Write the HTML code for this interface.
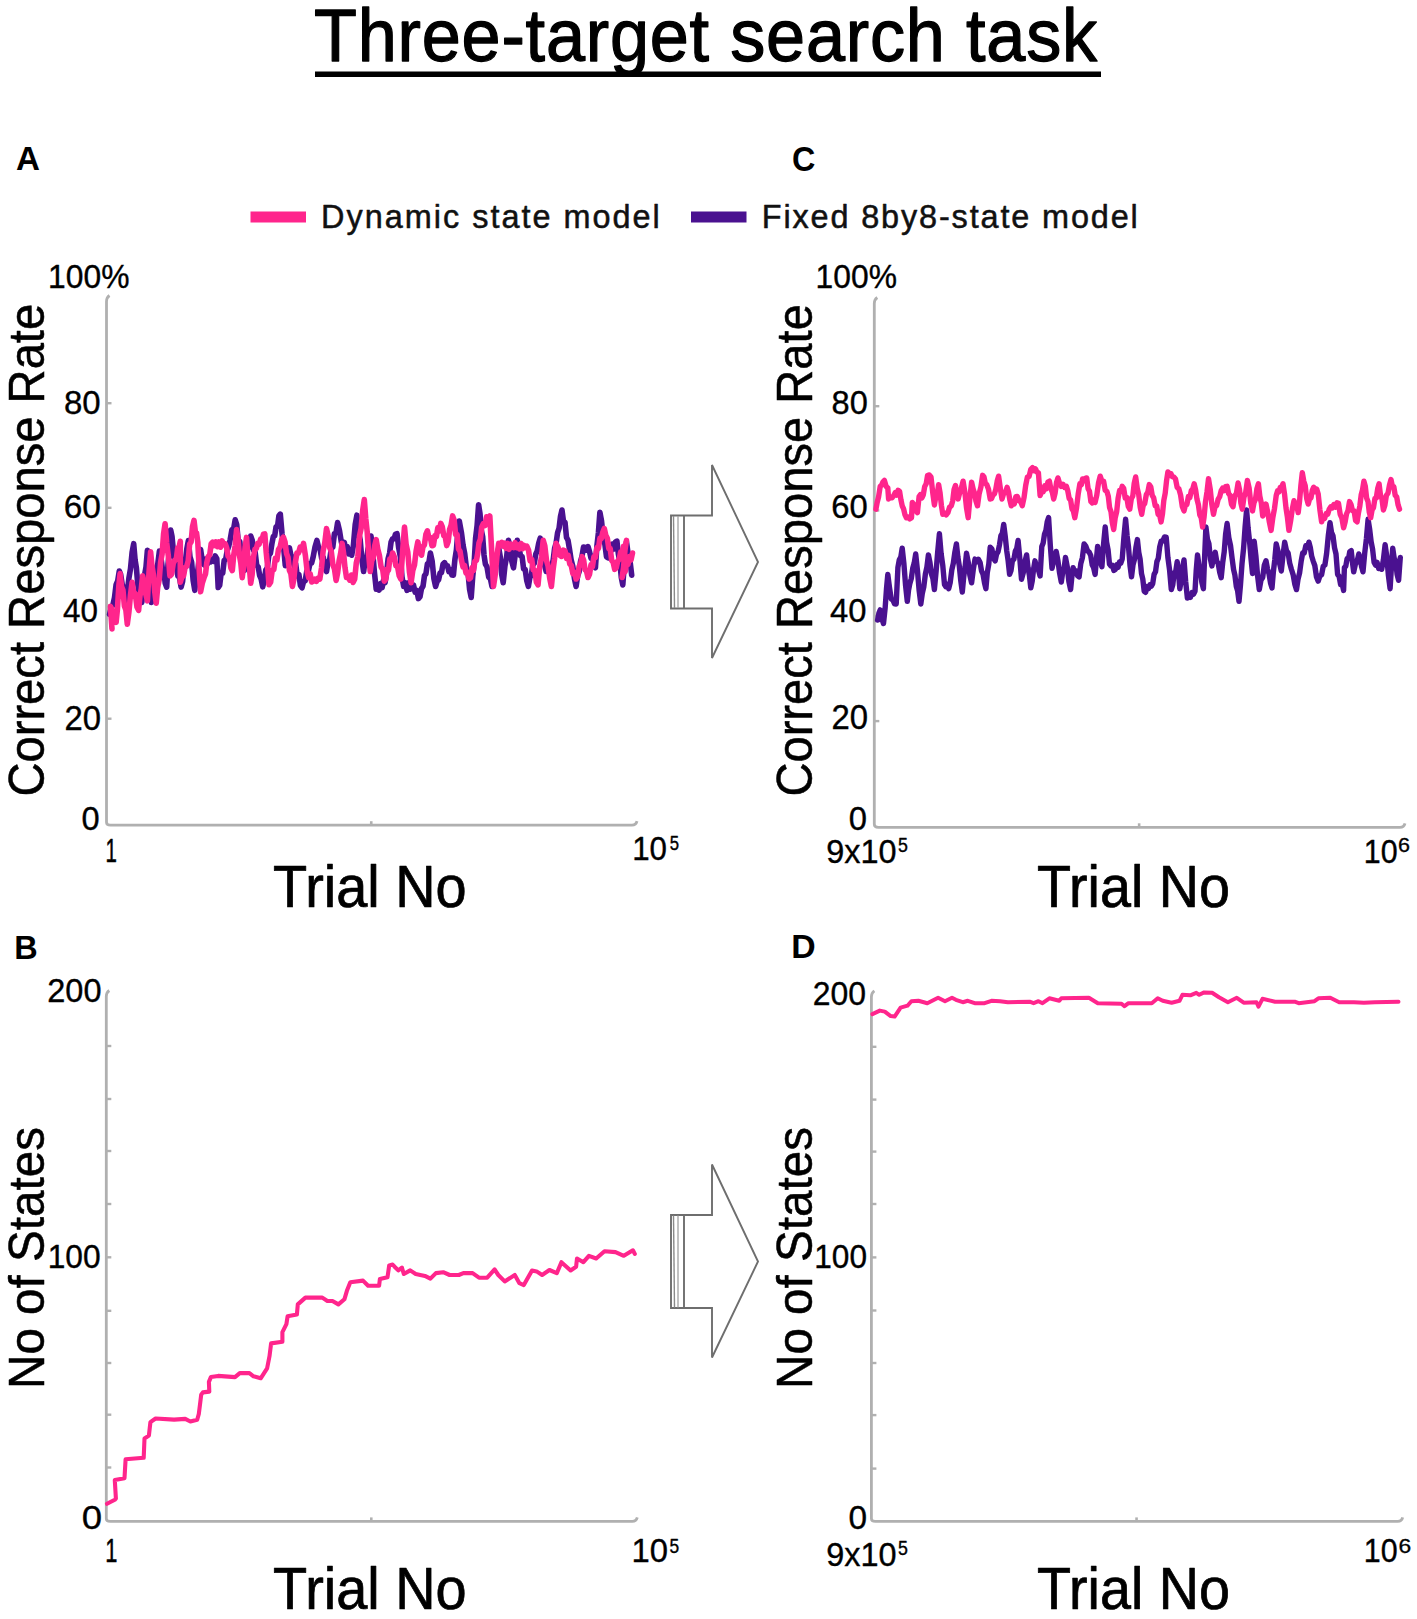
<!DOCTYPE html>
<html><head><meta charset="utf-8"><style>
html,body{margin:0;padding:0;background:#fff;}
svg{display:block;}
text{font-family:"Liberation Sans",sans-serif;}
</style></head><body>
<svg width="1417" height="1619" viewBox="0 0 1417 1619">
<rect width="1417" height="1619" fill="#fff"/>
<text transform="translate(314.02,61.40) scale(0.9600,1)" font-size="73.16" font-weight="normal" fill="#000" stroke="#000" stroke-width="1.25" stroke-linejoin="round" letter-spacing="0.822">Three-target search task</text>
<rect x="315" y="71.5" width="786" height="5.5" fill="#000"/>
<text transform="translate(15.97,169.60) scale(0.9819,1)" font-size="33.75" font-weight="bold" fill="#000" letter-spacing="0.000">A</text>
<text transform="translate(792.11,170.60) scale(0.9462,1)" font-size="34.20" font-weight="bold" fill="#000" letter-spacing="0.000">C</text>
<text transform="translate(14.21,958.80) scale(0.9537,1)" font-size="34.04" font-weight="bold" fill="#000" letter-spacing="0.000">B</text>
<text transform="translate(791.32,957.50) scale(1.0102,1)" font-size="33.45" font-weight="bold" fill="#000" letter-spacing="0.000">D</text>
<rect x="250.5" y="211.5" width="55.5" height="11" fill="#ff258c"/>
<rect x="691" y="211.5" width="55.5" height="11" fill="#4a1190"/>
<text transform="translate(321.07,227.75) scale(1.0000,1)" font-size="32.44" font-weight="normal" fill="#111" stroke="#111" stroke-width="0.50" stroke-linejoin="round" letter-spacing="1.999">Dynamic state model</text>
<text transform="translate(761.77,227.75) scale(1.0000,1)" font-size="32.44" font-weight="normal" fill="#111" stroke="#111" stroke-width="0.50" stroke-linejoin="round" letter-spacing="1.857">Fixed 8by8-state model</text>
<path d="M109.5,295.5 Q106.5,297.5 106.5,301.5 L106.5,822.2 Q106.5,825.2 110.5,825.2 L632,825.2 Q636,825.2 637,821.2" fill="none" stroke="#b0b0b0" stroke-width="2.8"/>
<line x1="106.5" y1="403.2" x2="111.5" y2="403.2" stroke="#b0b0b0" stroke-width="2.4"/>
<line x1="106.5" y1="507.8" x2="111.5" y2="507.8" stroke="#b0b0b0" stroke-width="2.4"/>
<line x1="106.5" y1="613.4" x2="111.5" y2="613.4" stroke="#b0b0b0" stroke-width="2.4"/>
<line x1="106.5" y1="718.7" x2="111.5" y2="718.7" stroke="#b0b0b0" stroke-width="2.4"/>
<line x1="371.25" y1="825.2" x2="371.25" y2="821.2" stroke="#b0b0b0" stroke-width="2.6"/>
<text transform="translate(48.09,288.22) scale(0.9515,1)" font-size="33.43" font-weight="normal" fill="#000" stroke="#000" stroke-width="0.37" stroke-linejoin="round" letter-spacing="0.000">100%</text>
<text transform="translate(63.97,413.52) scale(0.9860,1)" font-size="33.43" font-weight="normal" fill="#000" stroke="#000" stroke-width="0.35" stroke-linejoin="round" letter-spacing="0.000">80</text>
<text transform="translate(63.70,518.12) scale(1.0021,1)" font-size="33.43" font-weight="normal" fill="#000" stroke="#000" stroke-width="0.35" stroke-linejoin="round" letter-spacing="0.000">60</text>
<text transform="translate(62.97,622.43) scale(0.9279,1)" font-size="33.82" font-weight="normal" fill="#000" stroke="#000" stroke-width="0.38" stroke-linejoin="round" letter-spacing="0.000">40</text>
<text transform="translate(64.43,729.83) scale(0.9538,1)" font-size="34.40" font-weight="normal" fill="#000" stroke="#000" stroke-width="0.37" stroke-linejoin="round" letter-spacing="0.000">20</text>
<text transform="translate(81.57,830.03) scale(0.9742,1)" font-size="33.43" font-weight="normal" fill="#000" stroke="#000" stroke-width="0.36" stroke-linejoin="round" letter-spacing="0.000">0</text>
<text transform="translate(105.44,862.33) scale(0.6077,1)" font-size="33.67" font-weight="normal" fill="#000" stroke="#000" stroke-width="0.58" stroke-linejoin="round" letter-spacing="0.000">1</text>
<text transform="translate(632.13,859.53) scale(0.9574,1)" font-size="32.72" font-weight="normal" fill="#000" stroke="#000" stroke-width="0.37" stroke-linejoin="round" letter-spacing="0.000">10</text>
<text transform="translate(669.81,850.33) scale(0.8550,1)" font-size="19.58" font-weight="normal" fill="#000" stroke="#000" stroke-width="0.41" stroke-linejoin="round" letter-spacing="0.000">5</text>
<text transform="translate(43.95,796.61) rotate(-90) scale(0.9511,1)" font-size="49.60" fill="#000" stroke="#000" stroke-width="0.53" stroke-linejoin="round">Correct Response Rate</text>
<text transform="translate(273.09,907.15) scale(0.9421,1)" font-size="59.35" font-weight="normal" fill="#000" stroke="#000" stroke-width="0.74" stroke-linejoin="round" letter-spacing="0.000">Trial No</text>
<path d="M877.3,297.5 Q874.3,299.5 874.3,303.5 L874.3,824.3 Q874.3,827.3 878.3,827.3 L1400,827.3 Q1404,827.3 1405,823.3" fill="none" stroke="#b0b0b0" stroke-width="2.8"/>
<line x1="874.3" y1="406.2" x2="879.3" y2="406.2" stroke="#b0b0b0" stroke-width="2.4"/>
<line x1="874.3" y1="510.5" x2="879.3" y2="510.5" stroke="#b0b0b0" stroke-width="2.4"/>
<line x1="874.3" y1="616.0" x2="879.3" y2="616.0" stroke="#b0b0b0" stroke-width="2.4"/>
<line x1="874.3" y1="721.1" x2="879.3" y2="721.1" stroke="#b0b0b0" stroke-width="2.4"/>
<line x1="1139.15" y1="827.3" x2="1139.15" y2="823.3" stroke="#b0b0b0" stroke-width="2.6"/>
<text transform="translate(815.59,288.43) scale(0.9515,1)" font-size="33.43" font-weight="normal" fill="#000" stroke="#000" stroke-width="0.37" stroke-linejoin="round" letter-spacing="0.000">100%</text>
<text transform="translate(831.59,413.62) scale(0.9663,1)" font-size="33.71" font-weight="normal" fill="#000" stroke="#000" stroke-width="0.36" stroke-linejoin="round" letter-spacing="0.000">80</text>
<text transform="translate(831.33,517.93) scale(0.9613,1)" font-size="34.13" font-weight="normal" fill="#000" stroke="#000" stroke-width="0.36" stroke-linejoin="round" letter-spacing="0.000">60</text>
<text transform="translate(830.04,621.93) scale(0.9702,1)" font-size="33.82" font-weight="normal" fill="#000" stroke="#000" stroke-width="0.36" stroke-linejoin="round" letter-spacing="0.000">40</text>
<text transform="translate(831.43,728.93) scale(0.9447,1)" font-size="34.84" font-weight="normal" fill="#000" stroke="#000" stroke-width="0.37" stroke-linejoin="round" letter-spacing="0.000">20</text>
<text transform="translate(848.66,830.03) scale(1.0017,1)" font-size="32.72" font-weight="normal" fill="#000" stroke="#000" stroke-width="0.35" stroke-linejoin="round" letter-spacing="0.000">0</text>
<text transform="translate(826.23,863.12) scale(0.9786,1)" font-size="33.14" font-weight="normal" fill="#000" stroke="#000" stroke-width="0.36" stroke-linejoin="round" letter-spacing="0.000">9x10</text>
<text transform="translate(897.96,852.33) scale(0.9087,1)" font-size="19.58" font-weight="normal" fill="#000" stroke="#000" stroke-width="0.39" stroke-linejoin="round" letter-spacing="0.000">5</text>
<text transform="translate(1363.79,862.73) scale(0.9299,1)" font-size="32.72" font-weight="normal" fill="#000" stroke="#000" stroke-width="0.38" stroke-linejoin="round" letter-spacing="0.000">10</text>
<text transform="translate(1398.10,852.33) scale(1.0990,1)" font-size="19.58" font-weight="normal" fill="#000" stroke="#000" stroke-width="0.32" stroke-linejoin="round" letter-spacing="0.000">6</text>
<text transform="translate(811.95,796.61) rotate(-90) scale(0.9505,1)" font-size="49.60" fill="#000" stroke="#000" stroke-width="0.53" stroke-linejoin="round">Correct Response Rate</text>
<text transform="translate(1037.10,907.25) scale(0.9382,1)" font-size="59.35" font-weight="normal" fill="#000" stroke="#000" stroke-width="0.75" stroke-linejoin="round" letter-spacing="0.000">Trial No</text>
<path d="M109.3,990.5 Q106.3,992.5 106.3,996.5 L106.3,1518.4 Q106.3,1521.4 110.3,1521.4 L632.3,1521.4 Q636.3,1521.4 637.3,1517.4" fill="none" stroke="#b0b0b0" stroke-width="2.8"/>
<line x1="106.3" y1="1046" x2="111.3" y2="1046" stroke="#b0b0b0" stroke-width="2.4"/>
<line x1="106.3" y1="1099" x2="111.3" y2="1099" stroke="#b0b0b0" stroke-width="2.4"/>
<line x1="106.3" y1="1151" x2="111.3" y2="1151" stroke="#b0b0b0" stroke-width="2.4"/>
<line x1="106.3" y1="1204" x2="111.3" y2="1204" stroke="#b0b0b0" stroke-width="2.4"/>
<line x1="106.3" y1="1257.3" x2="111.3" y2="1257.3" stroke="#b0b0b0" stroke-width="2.4"/>
<line x1="106.3" y1="1310.8" x2="111.3" y2="1310.8" stroke="#b0b0b0" stroke-width="2.4"/>
<line x1="106.3" y1="1363" x2="111.3" y2="1363" stroke="#b0b0b0" stroke-width="2.4"/>
<line x1="106.3" y1="1414.7" x2="111.3" y2="1414.7" stroke="#b0b0b0" stroke-width="2.4"/>
<line x1="106.3" y1="1467.5" x2="111.3" y2="1467.5" stroke="#b0b0b0" stroke-width="2.4"/>
<line x1="371.29999999999995" y1="1521.4" x2="371.29999999999995" y2="1517.4" stroke="#b0b0b0" stroke-width="2.6"/>
<text transform="translate(47.25,1002.12) scale(0.9933,1)" font-size="32.72" font-weight="normal" fill="#000" stroke="#000" stroke-width="0.35" stroke-linejoin="round" letter-spacing="0.000">200</text>
<text transform="translate(47.69,1267.62) scale(0.9494,1)" font-size="33.43" font-weight="normal" fill="#000" stroke="#000" stroke-width="0.37" stroke-linejoin="round" letter-spacing="0.000">100</text>
<text transform="translate(81.71,1529.33) scale(1.0932,1)" font-size="33.43" font-weight="normal" fill="#000" stroke="#000" stroke-width="0.32" stroke-linejoin="round" letter-spacing="0.000">0</text>
<text transform="translate(105.34,1562.03) scale(0.6489,1)" font-size="33.67" font-weight="normal" fill="#000" stroke="#000" stroke-width="0.54" stroke-linejoin="round" letter-spacing="0.000">1</text>
<text transform="translate(631.41,1562.23) scale(0.9906,1)" font-size="33.14" font-weight="normal" fill="#000" stroke="#000" stroke-width="0.35" stroke-linejoin="round" letter-spacing="0.000">10</text>
<text transform="translate(669.48,1552.83) scale(0.8872,1)" font-size="19.58" font-weight="normal" fill="#000" stroke="#000" stroke-width="0.39" stroke-linejoin="round" letter-spacing="0.000">5</text>
<text transform="translate(43.65,1388.98) rotate(-90) scale(0.9603,1)" font-size="49.60" fill="#000" stroke="#000" stroke-width="0.52" stroke-linejoin="round">No of States</text>
<text transform="translate(273.09,1609.25) scale(0.9421,1)" font-size="59.35" font-weight="normal" fill="#000" stroke="#000" stroke-width="0.74" stroke-linejoin="round" letter-spacing="0.000">Trial No</text>
<path d="M874.4,990.9 Q871.4,992.9 871.4,996.9 L871.4,1518.4 Q871.4,1521.4 875.4,1521.4 L1397.7,1521.4 Q1401.7,1521.4 1402.7,1517.4" fill="none" stroke="#b0b0b0" stroke-width="2.8"/>
<line x1="871.4" y1="1046.8" x2="876.4" y2="1046.8" stroke="#b0b0b0" stroke-width="2.4"/>
<line x1="871.4" y1="1099.6" x2="876.4" y2="1099.6" stroke="#b0b0b0" stroke-width="2.4"/>
<line x1="871.4" y1="1151.6" x2="876.4" y2="1151.6" stroke="#b0b0b0" stroke-width="2.4"/>
<line x1="871.4" y1="1204" x2="876.4" y2="1204" stroke="#b0b0b0" stroke-width="2.4"/>
<line x1="871.4" y1="1257.4" x2="876.4" y2="1257.4" stroke="#b0b0b0" stroke-width="2.4"/>
<line x1="871.4" y1="1310.5" x2="876.4" y2="1310.5" stroke="#b0b0b0" stroke-width="2.4"/>
<line x1="871.4" y1="1363" x2="876.4" y2="1363" stroke="#b0b0b0" stroke-width="2.4"/>
<line x1="871.4" y1="1415.1" x2="876.4" y2="1415.1" stroke="#b0b0b0" stroke-width="2.4"/>
<line x1="871.4" y1="1468.6" x2="876.4" y2="1468.6" stroke="#b0b0b0" stroke-width="2.4"/>
<line x1="1136.55" y1="1521.4" x2="1136.55" y2="1517.4" stroke="#b0b0b0" stroke-width="2.6"/>
<text transform="translate(812.78,1005.23) scale(0.9843,1)" font-size="32.44" font-weight="normal" fill="#000" stroke="#000" stroke-width="0.36" stroke-linejoin="round" letter-spacing="0.000">200</text>
<text transform="translate(814.30,1267.53) scale(0.9456,1)" font-size="33.43" font-weight="normal" fill="#000" stroke="#000" stroke-width="0.37" stroke-linejoin="round" letter-spacing="0.000">100</text>
<text transform="translate(848.54,1529.33) scale(1.0297,1)" font-size="32.44" font-weight="normal" fill="#000" stroke="#000" stroke-width="0.34" stroke-linejoin="round" letter-spacing="0.000">0</text>
<text transform="translate(826.23,1565.62) scale(1.0000,1)" font-size="32.44" font-weight="normal" fill="#000" stroke="#000" stroke-width="0.35" stroke-linejoin="round" letter-spacing="0.000">9x10</text>
<text transform="translate(897.96,1554.83) scale(0.9221,1)" font-size="19.29" font-weight="normal" fill="#000" stroke="#000" stroke-width="0.38" stroke-linejoin="round" letter-spacing="0.000">5</text>
<text transform="translate(1363.79,1562.03) scale(0.9102,1)" font-size="33.43" font-weight="normal" fill="#000" stroke="#000" stroke-width="0.38" stroke-linejoin="round" letter-spacing="0.000">10</text>
<text transform="translate(1398.43,1552.83) scale(1.1405,1)" font-size="20.00" font-weight="normal" fill="#000" stroke="#000" stroke-width="0.31" stroke-linejoin="round" letter-spacing="0.000">6</text>
<text transform="translate(811.75,1388.98) rotate(-90) scale(0.9603,1)" font-size="49.60" fill="#000" stroke="#000" stroke-width="0.52" stroke-linejoin="round">No of States</text>
<text transform="translate(1037.10,1609.35) scale(0.9382,1)" font-size="59.35" font-weight="normal" fill="#000" stroke="#000" stroke-width="0.75" stroke-linejoin="round" letter-spacing="0.000">Trial No</text>
<path d="M671,515.5 L712,515.5 L712,465 L758,562 L712,658 L712,608.5 L671,608.5 Z" fill="#fff" stroke="#6e6e6e" stroke-width="1.9" stroke-linejoin="miter"/>
<line x1="673.5" y1="516" x2="674.5" y2="608" stroke="#8a8a8a" stroke-width="1.4"/>
<line x1="678" y1="516" x2="678" y2="608" stroke="#a0a0a0" stroke-width="1.3"/>
<line x1="684" y1="515.5" x2="684" y2="608.5" stroke="#6e6e6e" stroke-width="1.9"/>
<path d="M671,1215.0 L712,1215.0 L712,1164.5 L758,1261.5 L712,1357.5 L712,1308.0 L671,1308.0 Z" fill="#fff" stroke="#6e6e6e" stroke-width="1.9" stroke-linejoin="miter"/>
<line x1="673.5" y1="1215.5" x2="674.5" y2="1307.5" stroke="#8a8a8a" stroke-width="1.4"/>
<line x1="678" y1="1215.5" x2="678" y2="1307.5" stroke="#a0a0a0" stroke-width="1.3"/>
<line x1="684" y1="1215.0" x2="684" y2="1308.0" stroke="#6e6e6e" stroke-width="1.9"/>
<polyline points="107.0,1503.8 114.8,1499.7 115.9,1498.6 114.8,1480.1 124.5,1478.2 125.6,1459.3 143.7,1457.8 144.5,1438.5 148.9,1435.6 150.4,1422.2 155.6,1418.5 174.1,1419.6 185.2,1418.9 190.4,1421.5 197.2,1419.7 198.8,1414.0 200.0,1404.4 201.2,1394.8 202.9,1392.4 209.3,1391.6 208.9,1381.9 210.9,1377.1 218.1,1375.9 235.0,1377.1 239.8,1373.1 249.4,1373.1 253.5,1376.3 260.7,1378.3 267.1,1368.3 269.5,1356.2 271.1,1343.4 282.4,1341.8 282.4,1332.1 286.4,1324.1 287.6,1316.2 296.9,1314.5 297.8,1304.4 305.4,1297.6 322.3,1297.6 327.4,1301.0 332.5,1301.0 338.4,1304.4 344.4,1299.3 346.9,1290.8 350.3,1282.3 363.0,1280.6 368.1,1285.7 379.1,1285.7 379.9,1279.0 387.5,1277.3 389.2,1265.4 392.6,1264.6 394.6,1266.7 398.3,1270.4 401.9,1267.6 403.8,1274.0 410.2,1270.4 415.7,1274.0 424.9,1275.9 430.4,1278.6 435.9,1273.1 443.2,1272.2 449.6,1275.0 458.8,1275.0 463.4,1273.1 472.6,1273.1 479.0,1277.7 487.2,1277.7 494.6,1269.4 498.3,1275.0 504.7,1281.4 514.8,1275.0 519.4,1283.2 523.8,1285.1 532.0,1270.5 536.6,1271.4 542.1,1275.0 549.4,1270.0 556.8,1273.2 561.4,1262.2 570.6,1270.5 576.1,1266.8 577.0,1258.5 583.4,1262.2 588.9,1255.8 596.2,1258.5 604.5,1251.2 615.5,1252.1 623.8,1255.8 632.9,1250.3 634.8,1253.9" fill="none" stroke="#ff258c" stroke-width="4.1" stroke-linejoin="round" stroke-linecap="round" />
<polyline points="872.4,1014.1 879.8,1010.6 884.8,1011.6 890.7,1016.1 894.6,1016.6 900.6,1007.7 907.5,1005.7 911.4,1001.2 918.4,1000.8 927.3,1003.2 938.1,997.8 945.0,1001.2 952.0,997.8 955.9,999.8 962.8,1002.2 967.8,1000.8 974.7,1003.2 984.6,1003.2 991.5,1000.8 1000.0,1001.2 1007.9,1002.2 1029.6,1001.7 1033.6,1003.2 1038.5,1001.2 1042.5,1003.2 1049.4,998.3 1059.3,1000.8 1061.3,998.3 1088.9,997.8 1097.8,1003.2 1121.5,1003.7 1124.5,1006.2 1128.5,1003.2 1151.8,1003.2 1157.7,998.3 1162.7,1000.8 1171.6,1002.7 1179.5,1000.8 1182.4,994.8 1190.3,995.3 1196.3,992.8 1199.2,994.8 1204.2,992.4 1212.1,992.8 1219.0,997.3 1227.9,1002.2 1236.8,997.8 1243.7,1002.7 1256.5,1002.2 1258.5,1006.7 1262.5,998.8 1275.0,1001.7 1294.7,1001.7 1298.7,1003.2 1314.5,1001.2 1318.4,998.3 1330.3,997.8 1339.2,1002.2 1354.0,1002.2 1363.9,1002.7 1374.7,1002.2 1398.5,1001.7" fill="none" stroke="#ff258c" stroke-width="4.0" stroke-linejoin="round" stroke-linecap="round" />
<polyline points="877.6,620.1 878.9,613.3 880.2,609.9 881.9,618.9 883.5,623.5 885.2,607.4 886.5,588.7 887.8,574.4 889.5,587.6 891.2,598.9 892.9,600.0 894.5,603.8 896.2,604.0 897.9,567.6 899.3,559.8 900.8,557.1 902.2,548.1 903.9,563.6 905.6,585.7 907.3,601.4 908.5,590.6 909.8,583.7 911.3,578.5 912.8,567.9 914.2,563.1 915.7,554.0 917.4,569.7 919.1,590.1 920.8,604.0 922.3,593.4 923.8,586.9 925.4,573.8 926.9,567.0 928.4,554.9 929.9,562.2 931.4,573.8 932.9,578.3 934.4,589.6 936.1,571.6 937.7,551.6 939.4,533.7 941.1,553.4 942.8,565.7 944.5,584.5 945.9,586.7 947.3,584.3 948.7,588.7 950.2,582.6 951.8,569.9 953.3,563.4 954.9,551.9 956.4,543.9 957.9,557.3 959.3,565.9 960.8,581.0 962.3,592.1 963.7,576.9 965.1,566.9 966.5,553.2 968.2,562.1 969.9,575.5 971.6,582.8 973.3,569.4 975.0,559.1 976.7,561.8 978.4,559.3 980.1,562.5 981.5,570.8 983.0,574.1 984.5,582.8 985.9,588.7 987.3,572.6 988.8,564.0 990.2,547.3 991.9,548.9 993.5,558.5 995.2,560.8 996.6,554.0 998.1,551.5 999.5,544.7 1000.9,535.7 1002.3,533.4 1003.7,524.4 1005.2,536.0 1006.7,550.6 1008.1,560.4 1009.6,574.4 1011.0,570.6 1012.4,560.6 1013.9,559.3 1015.3,551.1 1016.7,548.7 1018.1,540.5 1019.8,558.3 1021.5,579.4 1023.2,573.1 1024.9,561.9 1026.6,554.9 1028.0,567.5 1029.4,575.4 1030.8,587.9 1032.2,581.3 1033.6,569.0 1035.0,560.8 1036.7,567.8 1038.4,569.9 1040.1,576.0 1041.8,546.4 1043.2,542.9 1044.5,534.2 1045.9,530.4 1047.2,521.9 1048.6,517.6 1050.3,545.1 1052.0,568.4 1053.4,562.0 1054.8,558.8 1056.2,551.5 1057.9,560.6 1059.6,573.1 1061.3,582.0 1062.7,572.1 1064.1,568.5 1065.5,557.4 1067.2,566.4 1068.9,581.8 1070.6,589.6 1071.8,577.6 1073.1,567.6 1074.6,572.7 1076.1,570.8 1077.6,575.6 1079.1,576.9 1080.8,563.5 1082.4,557.7 1084.1,543.9 1085.8,546.1 1087.5,550.7 1089.2,552.3 1090.7,555.4 1092.2,564.8 1093.6,567.7 1095.1,574.4 1096.3,561.0 1097.6,546.4 1099.0,552.5 1100.5,562.0 1101.9,566.7 1103.6,543.8 1105.2,526.9 1106.6,542.3 1108.1,550.0 1109.5,564.2 1111.0,566.1 1112.5,565.4 1113.9,570.5 1115.4,569.3 1116.8,564.7 1118.1,567.4 1119.5,562.0 1120.8,563.0 1122.2,559.1 1123.9,537.5 1125.6,519.3 1127.1,535.8 1128.5,546.9 1130.0,565.4 1131.5,576.9 1133.0,564.8 1134.5,559.2 1135.9,547.6 1137.4,539.6 1138.8,552.6 1140.1,559.0 1141.5,573.5 1142.8,579.1 1144.2,591.3 1145.6,592.3 1147.0,586.5 1148.5,588.6 1149.9,584.9 1151.3,586.2 1152.7,583.7 1154.1,574.4 1155.5,571.8 1156.9,561.6 1158.3,558.2 1159.7,546.8 1161.1,541.3 1162.8,541.1 1164.5,536.9 1166.2,537.1 1167.9,557.6 1169.6,570.2 1171.3,589.6 1172.8,584.7 1174.2,572.8 1175.7,571.6 1177.2,561.7 1178.5,572.8 1179.8,588.7 1181.2,580.7 1182.6,567.6 1184.0,560.0 1185.7,581.8 1187.4,598.1 1188.9,594.2 1190.4,597.4 1192.0,592.6 1193.5,594.1 1195.0,591.3 1196.2,570.7 1197.5,554.9 1199.0,565.3 1200.5,571.2 1201.9,582.6 1203.4,588.7 1204.7,555.0 1205.9,526.9 1207.4,539.2 1208.9,543.6 1210.4,558.9 1211.9,565.9 1213.6,557.2 1215.2,552.3 1216.7,561.1 1218.2,563.5 1219.7,572.2 1221.2,577.7 1222.7,562.7 1224.2,551.9 1225.6,534.2 1227.1,523.5 1228.8,537.6 1230.5,545.3 1232.2,559.1 1233.6,569.7 1234.9,575.1 1236.3,586.4 1237.6,590.7 1239.0,601.4 1240.5,584.7 1242.0,563.7 1243.6,548.1 1245.1,526.9 1246.6,510.0 1248.1,528.1 1249.5,540.8 1251.0,558.4 1252.5,573.5 1254.2,541.3 1255.9,556.1 1257.6,575.8 1259.3,589.6 1261.0,580.0 1262.7,577.4 1264.3,565.2 1266.0,560.8 1267.5,569.1 1269.0,573.7 1270.5,582.9 1272.0,587.9 1273.4,571.6 1274.8,559.6 1276.2,543.9 1277.9,550.7 1279.6,563.4 1281.3,571.0 1283.0,555.4 1284.7,542.2 1286.4,550.4 1288.1,552.9 1289.7,563.1 1291.4,569.3 1293.1,574.6 1294.8,584.1 1296.5,589.6 1298.0,579.4 1299.6,572.9 1301.2,561.0 1302.7,553.0 1304.2,553.1 1305.8,545.8 1307.4,547.2 1308.9,542.2 1310.3,547.4 1311.7,556.3 1313.1,560.8 1314.8,565.5 1316.5,577.0 1318.2,581.1 1319.9,575.9 1321.6,574.8 1323.2,566.4 1324.9,565.0 1326.6,553.5 1328.3,535.7 1330.0,522.7 1331.5,532.4 1333.0,535.9 1334.5,547.7 1336.0,554.0 1337.6,574.4 1339.1,576.2 1340.6,584.6 1342.1,583.5 1343.6,590.4 1344.4,567.6 1345.8,566.1 1347.1,558.6 1348.5,558.8 1349.8,551.6 1351.2,550.6 1352.5,562.6 1353.7,571.8 1355.4,564.1 1357.1,561.4 1358.8,554.0 1360.2,558.6 1361.6,566.8 1363.0,571.8 1364.7,553.2 1366.4,538.7 1368.1,519.3 1369.6,528.9 1371.1,541.6 1372.6,549.2 1374.1,562.5 1375.6,565.1 1377.1,562.4 1378.7,568.6 1380.2,566.4 1381.7,569.3 1383.4,559.7 1385.1,544.7 1386.8,556.6 1388.4,575.4 1390.1,588.7 1391.4,567.5 1392.7,548.1 1394.2,558.3 1395.7,561.6 1397.1,574.3 1398.6,580.3 1400.3,557.4" fill="none" stroke="#4a1190" stroke-width="5.4" stroke-linejoin="round" stroke-linecap="round" />
<polyline points="875.9,509.2 877.2,502.2 878.5,497.3 880.2,486.3 881.6,485.2 883.0,481.8 884.4,480.4 886.1,486.3 887.8,488.0 888.6,499.0 890.3,496.7 892.0,497.8 893.7,495.6 895.2,492.6 896.7,495.2 898.1,490.3 899.6,491.4 900.9,499.6 902.2,505.8 903.6,508.9 905.0,514.9 906.4,517.7 908.1,517.0 909.8,518.9 911.5,517.7 912.3,502.4 914.0,504.6 915.7,510.3 917.4,512.6 919.1,496.5 920.5,494.5 921.9,497.9 923.3,494.8 924.7,486.5 926.2,483.8 927.6,475.3 929.3,475.0 931.0,477.0 932.7,492.4 934.4,505.0 935.8,496.7 937.2,494.3 938.6,484.6 940.0,492.4 941.4,505.4 942.8,514.3 944.5,513.0 946.2,514.8 947.9,512.6 949.6,507.1 951.3,505.8 952.7,500.9 954.1,489.4 955.5,485.5 956.8,494.1 958.1,499.0 959.8,492.4 961.4,487.9 963.1,481.2 964.8,491.6 966.5,507.8 968.2,517.7 969.9,498.1 971.6,482.1 973.1,488.9 974.5,493.1 976.0,501.2 977.5,505.8 979.2,493.5 980.9,487.0 982.6,475.3 984.0,477.0 985.4,483.5 986.8,484.6 988.5,489.2 990.2,499.0 991.6,498.6 993.0,494.9 994.4,494.0 995.8,489.2 997.2,481.1 998.6,476.2 1000.3,488.2 1002.0,499.0 1003.7,493.4 1005.4,492.5 1007.1,487.2 1008.5,492.0 1009.9,500.2 1011.3,505.8 1012.8,502.7 1014.3,503.9 1015.8,496.7 1017.3,496.5 1019.0,500.8 1020.6,501.3 1022.3,505.8 1024.0,497.8 1025.7,485.4 1027.4,477.0 1029.1,476.4 1030.8,469.4 1032.5,467.7 1034.0,470.6 1035.5,468.9 1036.9,472.1 1038.4,472.8 1040.1,495.6 1041.6,491.8 1043.2,491.8 1044.8,485.8 1046.3,488.9 1047.9,482.1 1049.4,481.2 1050.8,488.6 1052.3,492.3 1053.7,499.0 1055.1,493.1 1056.5,482.6 1057.9,477.9 1059.6,483.3 1061.3,486.3 1063.0,484.3 1064.7,487.5 1066.4,486.3 1067.8,490.9 1069.2,498.5 1070.6,499.9 1072.0,508.8 1073.4,511.1 1074.8,517.7 1076.5,508.2 1078.2,494.0 1079.9,483.8 1081.3,484.8 1082.6,478.9 1084.0,480.9 1085.3,478.3 1086.7,477.9 1088.1,488.7 1089.5,491.3 1090.9,501.6 1092.3,502.9 1093.7,500.2 1095.1,502.4 1096.8,495.2 1098.5,483.0 1100.2,476.2 1101.9,481.1 1103.6,481.1 1105.2,490.2 1106.9,491.4 1108.3,496.3 1109.6,507.7 1111.0,511.7 1112.3,522.6 1113.7,529.5 1115.2,517.8 1116.7,511.5 1118.1,498.3 1119.6,490.6 1120.9,491.4 1122.2,486.3 1123.7,488.3 1125.2,498.0 1126.8,497.5 1128.3,506.5 1129.8,509.2 1131.3,498.8 1132.8,496.0 1134.2,483.3 1135.7,477.0 1137.2,488.0 1138.7,494.5 1140.2,507.3 1141.7,514.3 1143.2,505.4 1144.7,503.6 1146.3,494.7 1147.8,492.2 1149.3,484.6 1150.8,487.0 1152.2,495.3 1153.7,497.9 1155.2,505.8 1156.7,506.0 1158.1,514.4 1159.6,515.0 1161.1,521.9 1162.5,513.8 1163.8,500.5 1165.2,493.2 1166.5,481.2 1167.9,471.9 1169.4,475.6 1170.8,473.5 1172.3,476.6 1173.8,477.0 1175.5,479.0 1177.2,487.5 1178.9,488.9 1180.6,495.1 1182.3,506.5 1184.0,510.9 1185.5,504.8 1186.9,504.6 1188.4,496.6 1189.8,497.7 1191.3,490.7 1192.7,489.2 1194.2,483.8 1195.6,489.9 1197.0,499.3 1198.4,504.7 1199.8,515.0 1201.2,517.6 1202.6,527.0 1204.1,516.8 1205.5,501.6 1207.0,491.9 1208.5,478.7 1210.2,488.9 1211.8,504.3 1213.5,514.3 1215.0,506.8 1216.6,505.6 1218.1,499.4 1219.7,496.7 1221.2,490.6 1222.7,488.0 1224.2,490.7 1225.6,486.7 1227.1,486.3 1228.6,493.6 1230.0,495.3 1231.5,504.4 1233.0,506.7 1234.7,496.1 1236.4,493.5 1238.1,483.0 1239.5,489.5 1240.9,503.1 1242.3,509.2 1244.0,497.0 1245.7,492.4 1247.4,480.4 1249.1,487.8 1250.8,503.4 1252.5,510.9 1254.0,502.8 1255.5,499.2 1256.9,488.8 1258.4,483.8 1259.8,496.1 1261.3,503.0 1262.7,516.0 1264.3,512.8 1266.0,504.1 1267.7,512.1 1269.4,522.3 1271.1,530.4 1272.8,517.8 1274.5,508.4 1276.2,495.6 1277.6,490.8 1278.9,492.0 1280.3,487.3 1281.6,487.1 1283.0,483.8 1284.5,493.8 1286.0,508.0 1287.4,517.2 1288.9,530.4 1290.6,521.1 1292.3,509.1 1294.0,500.7 1295.4,505.7 1296.8,505.7 1298.2,512.6 1299.6,500.9 1300.9,485.3 1302.3,472.8 1303.8,481.3 1305.2,485.6 1306.7,498.5 1308.2,504.1 1309.6,498.8 1311.0,497.9 1312.3,490.3 1313.7,487.2 1315.2,491.7 1316.7,489.1 1318.2,494.0 1319.9,509.8 1321.6,521.9 1323.1,517.2 1324.6,518.4 1326.2,513.5 1327.7,514.2 1329.2,509.2 1330.8,506.9 1332.3,508.0 1333.8,504.5 1335.4,507.1 1337.0,502.8 1338.5,503.3 1340.2,514.4 1341.9,518.2 1343.6,527.8 1345.1,522.1 1346.5,514.0 1348.0,510.7 1349.5,501.6 1351.0,504.4 1352.5,510.7 1354.1,510.9 1355.6,520.5 1357.1,521.9 1358.5,512.6 1359.8,506.2 1361.2,494.8 1362.5,490.0 1363.9,481.2 1365.3,486.2 1366.6,497.9 1368.0,501.5 1369.3,512.4 1370.7,517.7 1372.1,509.8 1373.5,507.7 1374.9,498.6 1376.3,498.0 1377.7,488.6 1379.1,483.8 1380.5,495.3 1382.0,499.1 1383.4,510.0 1384.9,505.1 1386.4,495.3 1388.0,493.2 1389.5,484.9 1391.0,479.6 1392.4,486.5 1393.8,486.7 1395.2,495.3 1396.7,497.1 1398.1,504.9 1399.5,509.2" fill="none" stroke="#ff258c" stroke-width="5.4" stroke-linejoin="round" stroke-linecap="round" />
<polyline points="109.6,614.4 111.2,608.0 112.9,604.8 114.5,597.6 116.1,584.6 117.7,581.0 119.3,571.0 120.7,574.6 122.2,584.5 123.6,588.0 125.1,598.8 126.5,600.8 127.7,588.6 128.9,578.3 130.5,568.7 132.1,552.2 133.7,543.7 135.1,560.0 136.4,568.0 137.8,584.7 139.1,592.4 140.5,593.4 141.8,602.4 143.2,591.5 144.6,574.9 146.0,566.9 147.4,550.2 148.7,565.0 150.1,588.2 151.4,602.4 153.0,589.0 154.6,585.7 156.2,570.5 157.8,563.8 159.4,551.0 160.9,556.8 162.3,568.0 163.8,569.9 165.2,583.3 166.7,587.1 168.0,564.4 169.4,551.7 170.7,530.1 172.0,536.3 173.4,551.0 174.7,559.8 176.3,565.2 177.9,576.0 179.5,577.2 181.1,587.1 182.6,581.5 184.0,566.6 185.5,560.3 186.9,548.4 188.4,540.5 190.0,556.9 191.6,562.0 193.2,580.9 194.8,590.3 196.2,577.8 197.7,571.6 199.2,557.6 200.6,549.4 202.7,563.5 204.3,564.9 205.8,559.0 207.4,563.9 209.0,560.2 210.5,561.9 212.1,559.1 213.7,561.2 215.2,555.9 216.8,558.6 218.2,587.5 219.7,585.2 221.2,572.6 222.7,573.1 224.2,560.4 225.7,559.2 227.2,550.6 228.7,546.3 230.2,539.5 231.9,529.8 233.5,529.8 235.2,519.8 236.7,524.5 238.2,540.6 239.8,541.5 241.3,555.2 242.8,561.3 244.3,570.6 245.9,565.8 247.5,549.7 249.1,546.1 250.7,536.0 252.2,540.1 253.7,550.4 255.2,552.5 256.7,565.3 258.2,566.9 259.7,575.7 261.2,579.1 262.7,586.8 264.2,580.5 265.8,569.9 267.3,568.0 268.8,555.3 270.4,553.2 271.9,543.8 273.3,536.4 274.7,535.7 276.1,526.8 277.5,526.6 278.9,515.8 280.3,514.1 282.0,533.3 283.6,546.8 285.3,565.6 286.7,560.8 288.0,551.2 289.4,547.8 291.0,555.6 292.5,556.9 294.1,565.8 295.7,563.9 297.3,576.3 298.9,574.6 300.4,585.4 302.0,587.8 303.6,581.6 305.2,580.8 306.8,571.0 308.4,570.9 310.0,563.5 311.6,563.1 313.2,556.7 315.0,547.0 316.9,540.4 318.5,547.1 320.1,549.6 321.7,558.6 323.3,557.4 324.9,568.1 326.5,571.5 328.1,561.8 329.7,559.5 331.3,548.5 332.8,547.2 334.4,533.8 336.0,532.9 337.6,522.6 339.5,530.6 341.3,541.9 342.8,547.5 344.3,542.4 345.8,549.7 347.2,546.6 348.7,553.9 350.2,550.2 351.7,555.2 353.4,545.4 355.2,524.6 356.9,515.2 358.6,532.4 360.2,539.9 361.9,559.6 363.6,571.5 365.1,560.6 366.6,559.5 368.0,549.1 369.5,544.2 371.0,536.0 372.7,551.8 374.5,572.9 376.2,589.3 377.7,585.5 379.1,590.1 380.6,583.5 382.1,587.6 383.5,580.4 385.0,582.7 386.5,574.0 388.1,558.8 389.6,553.2 391.1,541.9 392.6,538.8 394.1,538.7 395.5,534.1 397.0,533.7 398.7,547.8 400.4,557.0 402.0,577.0 403.7,586.4 405.3,582.7 407.0,590.3 408.6,582.9 410.3,589.2 411.9,586.4 413.5,585.1 415.1,592.2 416.8,590.5 418.4,598.6 420.0,596.7 421.5,588.6 423.0,586.3 424.5,575.5 425.9,573.9 427.4,563.8 428.9,562.5 430.4,553.0 432.1,560.8 433.9,578.6 435.6,586.4 437.1,581.4 438.6,579.6 440.1,572.9 441.5,572.5 443.0,564.2 444.5,562.6 446.0,565.6 447.5,565.7 448.9,571.7 450.4,569.5 451.9,575.0 453.4,575.2 454.9,559.5 456.4,550.0 457.8,532.9 459.3,521.1 461.5,533.0 463.1,545.4 464.7,553.6 466.4,567.5 468.0,572.6 469.6,589.4 471.2,597.5 472.7,576.7 474.2,562.3 475.6,538.0 477.1,525.7 478.6,504.8 480.0,513.7 481.3,530.0 482.7,536.9 484.0,554.8 485.4,564.1 487.0,566.9 488.7,577.1 490.4,578.7 492.0,586.4 493.7,577.7 495.4,565.3 497.0,559.5 498.7,547.8 500.2,556.5 501.7,574.4 503.2,582.7 504.9,566.3 506.7,556.3 508.4,540.4 510.1,546.2 511.8,561.3 513.5,567.8 514.8,557.8 516.0,551.6 517.3,540.4 518.9,546.1 520.5,555.9 522.1,556.5 523.6,568.9 525.2,569.6 526.8,580.8 528.4,586.4 529.9,577.3 531.4,575.3 532.8,564.5 534.3,563.3 535.8,553.9 537.2,551.1 538.7,543.4 540.2,538.2 541.7,547.9 543.2,553.9 544.7,565.6 546.2,571.5 547.6,567.1 549.0,571.6 550.3,565.7 551.7,566.4 553.2,559.8 554.6,548.3 556.1,543.2 557.6,532.6 559.1,528.2 560.5,516.4 562.0,510.0 563.5,521.5 565.0,522.2 566.5,537.4 568.0,540.2 569.5,549.3 571.1,559.7 572.8,566.2 574.5,578.9 576.1,586.4 577.6,576.0 579.1,571.9 580.5,561.6 582.0,556.2 583.5,547.1 585.0,547.2 586.5,550.2 588.0,546.6 589.5,551.5 591.0,558.2 592.5,556.5 593.9,564.9 595.4,567.8 596.9,546.0 598.4,532.8 599.9,512.2 601.5,520.7 603.2,537.2 604.9,544.4 606.5,556.7 608.0,557.9 609.5,550.7 611.0,551.1 612.4,544.0 613.9,549.0 615.4,542.1 616.9,541.1 618.4,554.3 619.8,561.3 621.3,577.5 622.8,584.9 624.6,560.9 626.5,541.9 628.2,554.4 630.0,560.9 631.7,575.2" fill="none" stroke="#4a1190" stroke-width="5.6" stroke-linejoin="round" stroke-linecap="round" />
<polyline points="112.0,628.9 110.4,606.4 111.8,609.1 113.2,617.3 114.7,616.7 116.1,622.4 117.4,609.4 118.8,586.4 120.1,573.5 121.5,586.6 123.0,590.4 124.4,606.1 125.9,610.1 127.3,624.1 128.9,612.2 130.5,594.8 132.1,582.3 133.7,592.4 135.3,593.8 137.0,607.1 138.6,610.4 139.9,596.3 141.3,588.8 142.6,575.9 144.2,583.3 145.8,594.2 147.4,600.8 149.0,572.7 150.6,551.8 152.0,566.3 153.4,574.4 154.8,592.2 156.2,603.2 157.7,587.3 159.2,579.7 160.6,562.2 162.1,553.9 163.6,533.6 165.1,523.7 166.7,543.0 168.3,555.6 169.9,575.9 171.6,574.2 173.3,563.0 175.0,560.0 176.3,559.3 177.7,548.0 179.0,547.6 180.3,541.3 180.3,582.3 181.9,576.9 183.5,575.9 185.1,567.4 186.7,566.2 188.2,561.0 189.6,544.2 191.1,542.0 192.5,526.7 194.0,520.4 195.3,531.3 196.5,532.7 197.8,542.3 199.2,569.7 200.6,591.7 202.3,583.1 204.1,577.6 205.5,573.9 206.9,562.2 208.3,556.5 209.7,555.1 211.2,543.7 212.6,542.3 214.2,545.5 215.8,541.8 217.4,546.6 218.9,541.9 220.5,547.2 222.1,540.9 223.7,544.5 225.3,543.8 226.7,547.9 228.1,556.3 229.5,557.6 230.9,567.9 232.3,570.6 233.7,555.3 235.2,545.3 236.6,529.6 238.0,539.0 239.4,555.0 240.8,563.1 242.2,577.6 243.6,566.3 245.1,547.2 246.5,537.4 247.9,556.6 249.3,566.0 250.7,583.3 252.1,574.7 253.5,557.1 254.9,549.4 256.3,548.4 257.7,543.4 259.1,544.3 260.6,539.2 262.0,540.0 263.4,534.3 264.8,533.9 266.2,552.2 267.6,566.1 269.0,584.7 270.6,582.3 272.2,570.3 273.8,569.6 275.4,558.2 276.9,560.0 278.5,549.5 280.1,547.0 281.7,539.5 283.4,537.2 285.0,541.9 286.5,553.5 288.0,557.4 289.4,570.3 290.9,573.7 292.4,586.4 293.9,579.1 295.4,562.3 296.9,553.0 298.5,553.1 300.2,547.0 301.9,549.5 303.5,543.4 305.4,555.5 307.2,571.5 308.7,577.7 310.2,573.9 311.7,581.9 313.2,581.2 314.9,579.2 316.5,581.2 318.1,578.1 319.8,579.0 321.5,567.8 323.1,551.2 324.8,542.8 326.5,528.5 328.1,535.7 329.7,547.7 331.3,551.5 332.9,564.8 334.5,569.1 336.1,580.4 337.6,572.9 339.1,560.8 340.6,553.6 342.1,543.4 343.6,553.4 345.0,567.7 346.5,577.5 348.1,576.7 349.8,580.2 351.4,575.0 353.1,582.4 354.7,579.0 356.3,563.0 357.9,556.3 359.5,536.0 361.1,528.4 362.7,510.3 364.3,499.6 365.8,519.0 367.2,531.8 368.7,554.6 370.2,571.5 371.7,560.8 373.2,557.8 374.7,545.7 376.2,539.7 377.8,549.2 379.4,555.5 381.1,566.8 382.7,569.7 384.3,581.2 385.7,579.3 387.1,569.2 388.5,570.0 389.8,559.0 391.2,559.3 392.6,553.0 394.2,556.6 395.9,565.8 397.5,566.2 399.2,575.8 400.8,579.0 402.6,551.6 404.5,527.1 406.1,544.3 407.8,552.4 409.5,572.4 411.1,582.7 412.8,570.4 414.5,564.9 416.1,551.1 417.8,541.9 419.6,550.9 421.5,555.2 423.0,546.6 424.4,544.9 425.9,534.4 427.4,530.8 428.9,537.8 430.4,537.6 431.9,545.6 433.4,545.4 434.9,535.7 436.4,536.5 437.8,527.9 439.3,530.9 440.8,523.4 442.3,526.9 443.8,535.7 445.2,536.6 446.7,545.6 448.2,541.5 449.6,529.4 451.1,525.1 452.6,515.9 454.1,519.9 455.6,534.4 457.1,534.6 458.5,549.0 460.0,551.3 461.5,560.4 463.0,566.8 464.5,565.4 466.0,573.0 467.5,572.1 469.0,579.0 470.5,577.8 472.0,567.9 473.4,570.5 474.9,561.3 476.4,560.4 477.7,553.5 479.0,542.9 480.4,539.2 481.7,527.1 483.3,523.7 484.9,525.6 486.6,516.8 488.2,519.5 489.8,516.0 491.6,549.4 493.5,586.4 495.2,574.9 497.0,555.8 498.7,543.4 500.2,545.4 501.7,542.3 503.2,546.0 504.7,543.2 506.1,548.3 507.6,543.4 509.1,549.3 510.6,544.1 512.1,546.3 513.6,547.5 515.1,542.7 516.5,547.6 518.0,544.9 519.5,548.8 521.0,543.5 522.5,548.7 523.9,545.3 525.4,547.6 526.9,546.3 528.5,550.0 530.1,560.9 531.7,559.4 533.2,569.8 534.8,570.3 536.4,582.1 538.0,584.9 539.7,566.7 541.5,556.9 543.2,540.4 544.8,545.8 546.5,560.5 548.1,566.1 549.8,578.6 551.4,586.4 553.0,570.4 554.5,559.1 556.1,543.4 558.0,547.2 559.8,555.2 561.5,556.4 563.3,550.2 565.0,550.8 566.6,558.4 568.2,555.2 569.8,564.1 571.3,565.6 572.9,573.7 574.5,572.5 576.1,579.0 577.6,576.9 579.1,566.4 580.6,564.5 582.1,556.7 583.6,560.2 585.0,569.6 586.5,571.0 588.0,577.5 589.5,574.4 591.0,564.9 592.4,566.8 593.9,556.8 595.4,557.3 596.9,547.9 598.4,548.4 599.9,538.3 601.3,538.5 602.8,532.3 604.3,528.5 605.8,535.3 607.3,538.2 608.8,548.5 610.2,548.5 611.7,560.5 613.2,562.3 614.7,569.3 616.2,567.8 617.7,561.0 619.1,559.6 620.6,552.2 622.1,553.4 623.5,546.3 625.0,547.3 626.5,540.4 625.0,549.7 623.6,567.4 622.1,577.5 623.6,571.7 625.1,571.7 626.6,563.6 628.0,564.3 629.5,556.7 631.0,560.0 632.5,553.0" fill="none" stroke="#ff258c" stroke-width="5.6" stroke-linejoin="round" stroke-linecap="round" />
</svg></body></html>
